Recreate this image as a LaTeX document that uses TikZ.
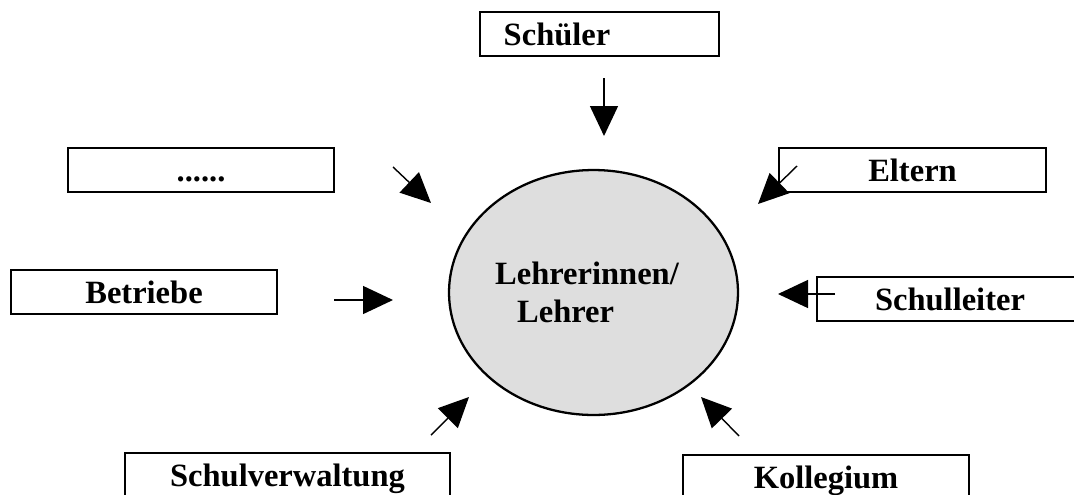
\documentclass[tikz,border=0pt]{standalone}
\usepackage{fontspec}
\setmainfont{Liberation Serif}
\usetikzlibrary{arrows.meta,shapes.geometric}
\begin{document}
\begin{tikzpicture}[x=0.02cm, y=-0.02cm, line join=miter,
		font=\fontsize{18.5}{22}\selectfont\bfseries,
		kasten/.style={draw, line width=1.5pt, minimum height=0.88cm, text height=0.47cm, text depth=0pt, inner sep=0pt},
		pfeil/.style={line width=0.8pt, -{Triangle[length=0.6cm, width=0.56cm]}}]
		\useasboundingbox (0,0) rectangle (1074,494);
		\node[ellipse, draw, line width=1.3pt, fill=black!13, minimum width=5.78cm, minimum height=4.9cm, inner sep=0pt, align=left] (lehrer) at (593.5,292.5) {Lehrerinnen/\hspace*{0.26cm}\\\hspace*{0.44cm}Lehrer};
		\node[kasten, minimum width=4.78cm] (schueler) at (599.5,34) {Schüler\hspace*{1.7cm}};
		\node[kasten, minimum width=5.32cm] (punkte) at (201,170) {......};
		\node[kasten, minimum width=5.34cm] (eltern) at (912.5,170) {Eltern};
		\node[kasten, minimum width=5.32cm] (betriebe) at (144,292) {Betriebe};
		\node[kasten, minimum width=5.32cm] (leiter) at (950,299) {Schulleiter};
		\node[kasten, minimum width=6.5cm] (verwaltung) at (287.5,475) {Schulverwaltung};
		\node[kasten, minimum width=5.72cm] (kollegium) at (826,477) {Kollegium};
		\draw[pfeil] (604,78) -- (604,136);
		\draw[pfeil] (393,167) -- (431,203);
		\draw[pfeil] (797,166) -- (758,204);
		\draw[pfeil] (334,300) -- (393,300);
		\draw[pfeil] (835,294) -- (778,294);
		\draw[pfeil] (431,435) -- (469,397);
		\draw[pfeil] (739,436) -- (701,397);
	\end{tikzpicture}
\end{document}
